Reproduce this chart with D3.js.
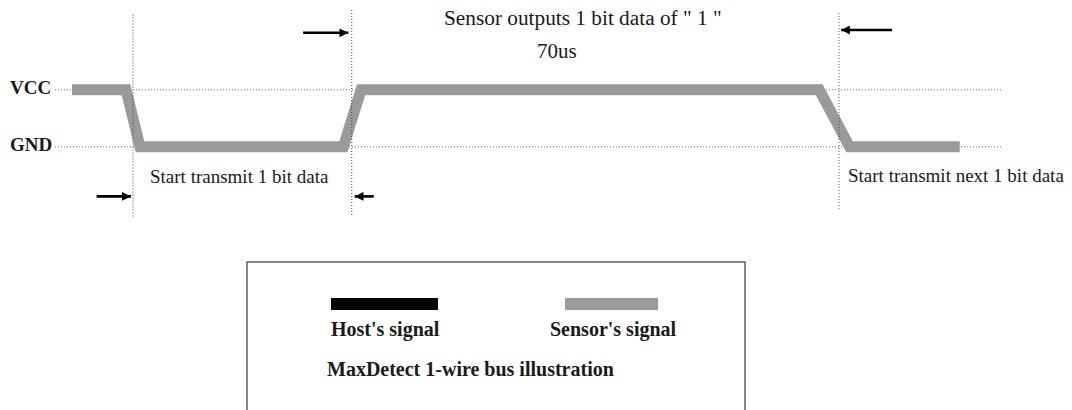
<!DOCTYPE html>
<html>
<head>
<meta charset="utf-8">
<script src="https://cdn.jsdelivr.net/npm/d3@7"></script>
<style>
  html, body { margin: 0; padding: 0; background: #fff; }
  svg { display: block; }
  text { font-family: "Liberation Serif", "Times New Roman", serif; fill: #1a1a1a; }
</style>
</head>
<body>
<svg id="chart" width="1072" height="410"></svg>
<script>
// ---- data (time in arbitrary units, level 1 = VCC, 0 = GND) ----
const levelLabels = ["GND", "VCC"];
const levelValues = [0, 1];
const signalTime  = [-8.64, -0.99, 0.99, 29.8, 32.3, 97.2, 101.5, 117.1];
const signalLevel = [1, 1, 0, 0, 1, 1, 0, 0];
const markerTime  = [0, 30.98, 100];
const markerTop   = [2.32, 2.4, 2.35];
const markerBottom= [-1.25, -1.2, -1.12];
const refLineStart = -11.05;
const refLineEnd   = 123.2;
const titleText = "Sensor outputs 1 bit data of \" 1 \"";
const durationText = "70us";
const lowNote = "Start transmit 1 bit data";
const nextNote = "Start transmit next 1 bit data";
const legendNames = ["Host's signal", "Sensor's signal"];
const legendColors = ["#000000", "#9a9a9a"];
const captionText = "MaxDetect 1-wire bus illustration";

const svg = d3.select("#chart");
const x = d3.scaleLinear().domain([0, 100]).range([133, 839]);
const y = d3.scaleLinear().domain([0, 1]).range([146.8, 89.8]);

// arrow marker
svg.append("defs").append("marker")
  .attr("id", "ah").attr("viewBox", "0 0 10 10")
  .attr("refX", 10).attr("refY", 5)
  .attr("markerWidth", 3.8).attr("markerHeight", 3.4)
  .attr("markerUnits", "strokeWidth")
  .attr("orient", "auto")
  .append("path").attr("d", "M0,0 L10,5 L0,10 Z").attr("fill", "#000");

// horizontal dotted reference lines
svg.selectAll("line.ref").data(levelValues).enter().append("line")
  .attr("class", "ref")
  .attr("x1", x(refLineStart)).attr("x2", x(refLineEnd))
  .attr("y1", d => y(d)).attr("y2", d => y(d))
  .attr("stroke", "#6a6a6a").attr("stroke-width", 1)
  .attr("stroke-dasharray", "1,2");

// signal
const pts = signalTime.map((t, i) => [t, signalLevel[i]]);
svg.append("path")
  .datum(pts)
  .attr("d", d3.line().x(d => x(d[0])).y(d => y(d[1])))
  .attr("fill", "none")
  .attr("stroke", legendColors[1])
  .attr("stroke-width", 11)
  .attr("stroke-linejoin", "miter")
  .attr("stroke-linecap", "butt");

// vertical dotted markers
svg.selectAll("line.mk").data(markerTime).enter().append("line")
  .attr("class", "mk")
  .attr("x1", d => x(d)).attr("x2", d => x(d))
  .attr("y1", (d, i) => y(markerTop[i])).attr("y2", (d, i) => y(markerBottom[i]))
  .attr("stroke", "#444").attr("stroke-width", 1)
  .attr("stroke-dasharray", "1,2");

// level labels
svg.selectAll("text.lvl").data(levelValues).enter().append("text")
  .attr("class", "lvl")
  .attr("x", 10).attr("y", d => y(d) + 4)
  .attr("font-weight", "bold").attr("font-size", 19)
  .text((d, i) => levelLabels[i]);

// arrows
const arrows = [
  {from: -5.15, to: -0.3, lvl: -0.87},
  {from: 34.1, to: 31.4, lvl: -0.87},
  {from: 24.1, to: 30.5, lvl: 2.0},
  {from: 107.5, to: 100.3, lvl: 2.05}
];
svg.selectAll("line.arr").data(arrows).enter().append("line")
  .attr("class", "arr")
  .attr("x1", d => x(d.from)).attr("x2", d => x(d.to))
  .attr("y1", d => y(d.lvl)).attr("y2", d => y(d.lvl))
  .attr("stroke", "#000").attr("stroke-width", 2.6)
  .attr("marker-end", "url(#ah)");

// texts
svg.append("text").attr("x", 444).attr("y", 25).attr("font-size", 21.3).text(titleText);
svg.append("text").attr("x", 537).attr("y", 58).attr("font-size", 21).text(durationText);
svg.append("text").attr("x", 150).attr("y", 183).attr("font-size", 19).text(lowNote);
svg.append("text").attr("x", 848).attr("y", 182).attr("font-size", 19).text(nextNote);

// legend box
const lg = svg.append("g");
lg.append("rect").attr("x", 247).attr("y", 262).attr("width", 498).attr("height", 170)
  .attr("fill", "#fff").attr("stroke", "#555").attr("stroke-width", 1.4);
const legX = [331, 565];
const legW = [107, 93];
legendNames.forEach((n, i) => {
  lg.append("rect").attr("x", legX[i]).attr("y", 298).attr("width", legW[i]).attr("height", 12)
    .attr("fill", legendColors[i]);
});
lg.append("text").attr("x", 331).attr("y", 336).attr("font-size", 20).attr("font-weight", "bold").text(legendNames[0]);
lg.append("text").attr("x", 550).attr("y", 336).attr("font-size", 20).attr("font-weight", "bold").text(legendNames[1]);
lg.append("text").attr("x", 327).attr("y", 376).attr("font-size", 20).attr("font-weight", "bold").text(captionText);
</script>
</body>
</html>
